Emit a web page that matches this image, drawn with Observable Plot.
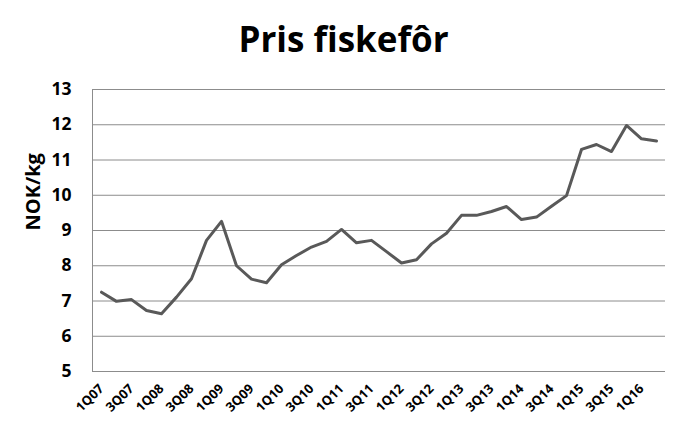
<!DOCTYPE html>
<html><head><meta charset="utf-8">
<script src="https://cdn.jsdelivr.net/npm/d3@7"></script>
<script src="https://cdn.jsdelivr.net/npm/@observablehq/plot@0.6"></script>
<style>
body{margin:0;background:#fff;font-family:"Open Sans",sans-serif;font-variant-ligatures:none;}
#title{height:70px;box-sizing:border-box;padding-top:19px;text-align:center;font-weight:bold;font-size:35px;line-height:40px;color:#000;padding-left:2px;font-variant-ligatures:none;}
svg text{font-variant-ligatures:none;}
</style></head>
<body>
<div id="title">Pris fiskefôr</div>
<div id="chart"></div>
<script>
const quarters = ["1Q07","2Q07","3Q07","4Q07","1Q08","2Q08","3Q08","4Q08","1Q09","2Q09","3Q09","4Q09",
  "1Q10","2Q10","3Q10","4Q10","1Q11","2Q11","3Q11","4Q11","1Q12","2Q12","3Q12","4Q12",
  "1Q13","2Q13","3Q13","4Q13","1Q14","2Q14","3Q14","4Q14","1Q15","2Q15","3Q15","4Q15","1Q16","2Q16"];
const prices = [7.25,6.99,7.04,6.73,6.64,7.11,7.63,8.72,9.26,8.0,7.62,7.52,
  8.03,8.29,8.53,8.69,9.03,8.65,8.72,8.40,8.08,8.17,8.62,8.92,
  9.43,9.43,9.54,9.68,9.31,9.38,9.69,9.99,11.30,11.44,11.24,11.98,11.60,11.54];
const tickLabels = ["1Q07","3Q07","1Q08","3Q08","1Q09","3Q09","1Q10","3Q10","1Q11","3Q11","1Q12","3Q12","1Q13","3Q13","1Q14","3Q14","1Q15","3Q15","1Q16"];
const yTicks = [5,6,7,8,9,10,11,12,13];

const data = quarters.map((q,i)=>({q, v: prices[i]}));

const chart = Plot.plot({
  width: 685,
  height: 366,
  marginLeft: 92,
  marginRight: 20,
  marginTop: 19,
  marginBottom: 65,
  style: {fontFamily: "'Open Sans', sans-serif", color: "#000", background: "#fff"},
  x: {type: "point", domain: quarters, padding: 0.5},
  y: {domain: [5, 13]},
  marks: [
    Plot.gridY(yTicks, {stroke: "#8c8c8c", strokeOpacity: 1, strokeWidth: 1}),
    Plot.frame({anchor: "left", stroke: "#8c8c8c"}),
    Plot.axisY(yTicks, {tickSize: 0, tickPadding: 21, fontSize: 17.5, fontWeight: "bold", label: null}),
    Plot.text(["NOK/kg"], {frameAnchor: "left", dx: -59, rotate: -90, fontSize: 20, fontWeight: "bold", fill: "#000"}),
    Plot.axisX(tickLabels, {tickSize: 0, tickRotate: -45, tickPadding: 15, dx: 0, fontSize: 13, fontWeight: "bold", label: null}),
    Plot.line(data, {x: "q", y: "v", stroke: "#595959", strokeWidth: 3})
  ]
});
document.getElementById("chart").appendChild(chart);
</script>
</body></html>
